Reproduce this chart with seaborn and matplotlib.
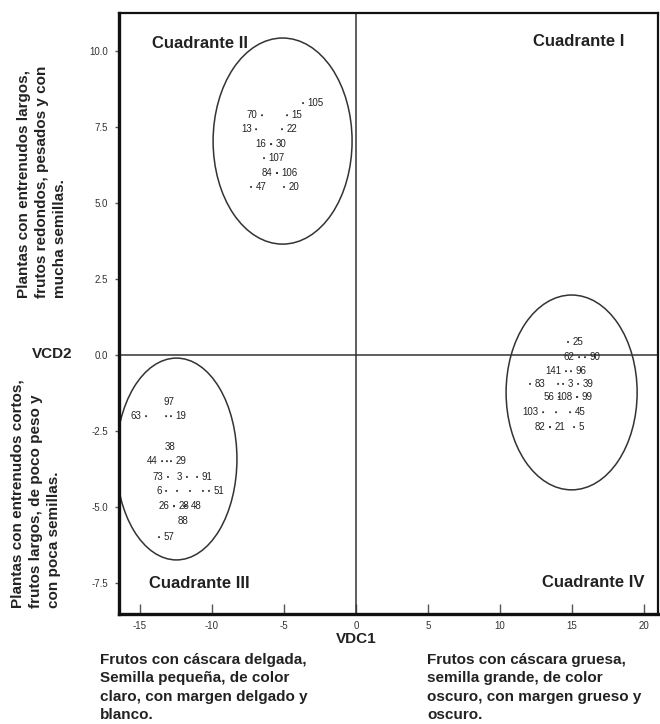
import matplotlib
matplotlib.use("Agg")
import matplotlib.pyplot as plt
from matplotlib.patches import Ellipse
import seaborn as sns
import pandas as pd

# Observation numbers, canonical discriminant scores and where each number sits
obs_label = ["105", "70", "15", "13", "22", "16", "30", "107", "84", "106", "47", "20",
             "63", "97", "19", "44", "38", "29", "73", "3", "91", "6", "", "", "", "51",
             "26", "28", "48", "88", "57",
             "25", "62", "90", "141", "96", "83", "", "3", "39", "56", "108", "99",
             "103", "", "45", "82", "21", "5"]
vdc1 = [-3.68, -6.53, -4.79, -6.94, -5.14, -5.90, -5.90, -6.39, -5.49, -5.49, -7.29, -5.00,
        -14.58, -13.19, -12.85, -13.47, -13.13, -12.85, -13.06, -11.74, -11.04, -13.19,
        -12.43, -11.53, -10.63, -10.21, -12.64, -12.64, -11.81, -11.94, -13.68,
        14.72, 15.49, 15.90, 14.58, 14.93, 12.08, 14.03, 14.38, 15.42, 14.10, 15.35, 15.35,
        12.99, 13.89, 14.86, 13.47, 13.47, 15.14]
vcd2 = [8.29, 7.89, 7.89, 7.43, 7.43, 6.94, 6.94, 6.48, 5.99, 5.99, 5.53, 5.53,
        -2.01, -2.01, -2.01, -3.49, -3.49, -3.49, -4.01, -4.01, -4.01, -4.47,
        -4.47, -4.47, -4.47, -4.47, -4.97, -4.97, -4.97, -4.97, -5.99,
        0.43, -0.07, -0.07, -0.53, -0.53, -0.95, -0.95, -0.95, -0.95, -1.38, -1.38, -1.38,
        -1.88, -1.88, -1.88, -2.37, -2.37, -2.37]
label_side = ["r", "l", "r", "l", "r", "l", "r", "r", "l", "r", "r", "r",
              "l", "a", "r", "l", "a", "r", "l", "l", "r", "l", "r", "r", "r", "r",
              "l", "r", "r", "b", "r",
              "r", "l", "r", "l", "r", "r", "r", "r", "r", "l", "l", "r",
              "l", "r", "r", "l", "r", "r"]

# Group ellipses: centre, width, height
ell_cx = [-5.10, -12.47, 14.97]
ell_cy = [7.04, -3.42, -1.23]
ell_w = [9.65, 8.40, 9.10]
ell_h = [6.78, 6.64, 6.41]

quad_names = ["Cuadrante I", "Cuadrante II", "Cuadrante III", "Cuadrante IV"]
quad_x = [15.49, -10.83, -10.90, 16.46]
quad_y = [10.30, 10.26, -7.50, -7.47]

xticks = [-15, -10, -5, 0, 5, 10, 15, 20]
xtick_labels = ["-15", "-10", "-5", "0", "5", "10", "15", "20"]
yticks = [-7.5, -5.0, -2.5, 0.0, 2.5, 5.0, 7.5, 10.0]
ytick_labels = ["-7.5", "-5.0", "-2.5", "0.0", "2.5", "5.0", "7.5", "10.0"]

df = pd.DataFrame({"VDC1": vdc1, "VCD2": vcd2, "obs": obs_label, "side": label_side})

sns.set_theme(style="white")
plt.rcParams["font.family"] = ["Liberation Sans", "DejaVu Sans"]

fig = plt.figure(figsize=(6.6, 7.24), dpi=100)
ax = fig.add_axes([0.1803, 0.1519, 0.8167, 0.830])

sns.scatterplot(data=df, x="VDC1", y="VCD2", s=2.2, color="#333333",
                edgecolor="none", ax=ax, legend=False, zorder=3)

offsets = {"r": ((3.2, 0), "left", "center"),
           "l": ((-3.2, 0), "right", "center"),
           "a": ((2, 10.5), "center", "center"),
           "b": ((-1, -11), "center", "center")}
for _, row in df.iterrows():
    if not row["obs"]:
        continue
    (dx, dy), ha, va = offsets[row["side"]]
    ax.annotate(row["obs"], (row["VDC1"], row["VCD2"]), xytext=(dx, dy),
                textcoords="offset points", ha=ha, va=va, fontsize=7,
                color="#222222", zorder=4)

for cx, cy, w, h in zip(ell_cx, ell_cy, ell_w, ell_h):
    ax.add_patch(Ellipse((cx, cy), w, h, fill=False, edgecolor="#333333",
                         linewidth=1.1, zorder=2))

ax.axhline(0, color="#333333", linewidth=1.1, zorder=1)
ax.axvline(0, color="#333333", linewidth=1.1, zorder=1)

for name, qx, qy in zip(quad_names, quad_x, quad_y):
    ax.text(qx, qy, name, ha="center", va="center", fontsize=12,
            fontweight="bold", color="#222222")

ax.set_xlim(-16.46, 20.97)
ax.set_ylim(-8.52, 11.25)
ax.set_xticks(xticks)
ax.set_xticklabels(xtick_labels)
ax.set_yticks(yticks)
ax.set_yticklabels(ytick_labels)
ax.tick_params(axis="x", direction="in", length=7, width=1, color="#555555",
               labelsize=7, labelcolor="#333333", pad=5, bottom=True)
ax.tick_params(axis="y", direction="out", length=3, width=1, color="#555555",
               labelsize=7, labelcolor="#333333", pad=5, left=True)
ax.set_xlabel("")
ax.set_ylabel("")

for side, lw in (("left", 2.4), ("bottom", 2.4), ("top", 1.6), ("right", 1.6)):
    ax.spines[side].set_visible(True)
    ax.spines[side].set_color("#111111")
    ax.spines[side].set_linewidth(lw)

ax.grid(False)

# Axis names and descriptive notes around the frame
fig.text(356 / 660, 1 - 639 / 724, "VDC1", ha="center", va="center",
         fontsize=11, fontweight="bold", color="#222222")
fig.text(52 / 660, 1 - 354 / 724, "VCD2", ha="center", va="center",
         fontsize=11, fontweight="bold", color="#222222")

fig.text(42 / 660, 1 - 298 / 724,
         "Plantas con entrenudos largos,\nfrutos redondos, pesados y con\nmucha semillas.",
         rotation=90, ha="center", va="bottom", multialignment="left",
         fontsize=11, fontweight="bold", color="#222222", linespacing=1.4)
fig.text(36 / 660, 1 - 608 / 724,
         "Plantas con entrenudos cortos,\nfrutos largos, de poco peso y\ncon poca semillas.",
         rotation=90, ha="center", va="bottom", multialignment="left",
         fontsize=11, fontweight="bold", color="#222222", linespacing=1.4)

fig.text(100 / 660, 1 - 653 / 724,
         "Frutos con cáscara delgada,\nSemilla pequeña, de color\nclaro, con margen delgado y\nblanco.",
         ha="left", va="top", fontsize=11, fontweight="bold", color="#222222",
         linespacing=1.4)
fig.text(427 / 660, 1 - 653 / 724,
         "Frutos con cáscara gruesa,\nsemilla grande, de color\noscuro, con margen grueso y\noscuro.",
         ha="left", va="top", fontsize=11, fontweight="bold", color="#222222",
         linespacing=1.4)

fig.savefig("out.png", dpi=100, facecolor="white")
